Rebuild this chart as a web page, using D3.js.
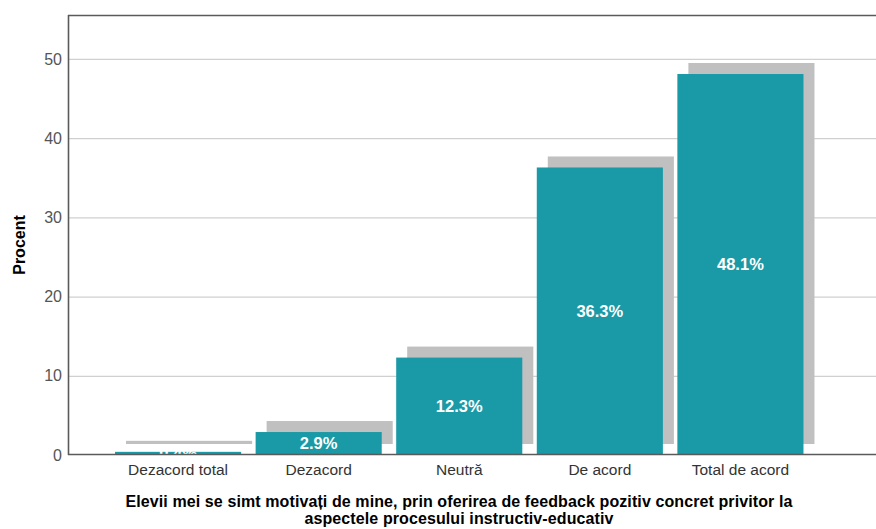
<!DOCTYPE html>
<html>
<head>
<meta charset="utf-8">
<script src="https://cdn.jsdelivr.net/npm/d3@7/dist/d3.min.js"></script>
<style>
  html, body { margin: 0; padding: 0; background: #fff; }
  svg { display: block; font-family: Arial, "Liberation Sans", sans-serif; }
</style>
</head>
<body>
<svg id="chart" width="876" height="529"></svg>
<script>
// Response categories and percentages
const categories = ["Dezacord total", "Dezacord", "Neutră", "De acord", "Total de acord"];
const percents = [0.4, 2.9, 12.3, 36.3, 48.1];
const yTicks = [0, 10, 20, 30, 40, 50];
const yTitle = "Procent";
const xTitleLines = [
  "Elevii mei se simt motivați de mine, prin oferirea de feedback pozitiv concret privitor la",
  "aspectele procesului instructiv-educativ"
];

const W = 876, H = 529;
const plot = { left: 68, right: 876, top: 15, bottom: 455 };
const shadowOffset = 11;

const svg = d3.select("#chart");

const x = d3.scaleBand()
  .domain(categories)
  .range([108, 810.5])
  .paddingInner(0.103)
  .paddingOuter(0.05);

const y = d3.scaleLinear()
  .domain([0, 55.55])
  .range([plot.bottom, plot.top]);

// clip region for the plot area
svg.append("defs").append("clipPath").attr("id", "plotClip")
  .append("rect")
  .attr("x", plot.left).attr("y", plot.top)
  .attr("width", plot.right - plot.left).attr("height", plot.bottom - plot.top - 1);

// horizontal gridlines
svg.append("g")
  .selectAll("line")
  .data(yTicks.filter(d => d > 0))
  .join("line")
  .attr("x1", plot.left).attr("x2", plot.right)
  .attr("y1", d => y(d) + 0.5).attr("y2", d => y(d) + 0.5)
  .attr("stroke", "#d0d0d0").attr("stroke-width", 1.3);

const bars = svg.append("g").attr("clip-path", "url(#plotClip)");

// drop shadows behind bars
bars.selectAll("rect.shadow")
  .data(percents)
  .join("rect")
  .attr("class", "shadow")
  .attr("x", (d, i) => x(categories[i]) + shadowOffset)
  .attr("y", d => y(d) - shadowOffset)
  .attr("width", x.bandwidth())
  .attr("height", d => y(0) - y(d))
  .attr("fill", "#c0c0c0");

// bars
bars.selectAll("rect.bar")
  .data(percents)
  .join("rect")
  .attr("class", "bar")
  .attr("x", (d, i) => x(categories[i]))
  .attr("y", d => y(d))
  .attr("width", x.bandwidth())
  .attr("height", d => y(0) - y(d))
  .attr("fill", "#1a9aa7");

// value labels centred in each bar (clipped at the baseline)
bars.selectAll("text.val")
  .data(percents)
  .join("text")
  .attr("class", "val")
  .attr("x", (d, i) => x(categories[i]) + x.bandwidth() / 2)
  .attr("y", d => (y(d) + y(0)) / 2)
  .attr("dy", "0.36em")
  .attr("text-anchor", "middle")
  .attr("fill", "#fff")
  .attr("font-size", 16.5)
  .attr("font-weight", "bold")
  .text(d => d.toFixed(1) + "%");

// y axis tick labels
const yAxis = d3.axisLeft(y).tickValues(yTicks).tickSize(0).tickPadding(6);
const gy = svg.append("g").attr("transform", `translate(${plot.left},0)`).call(yAxis);
gy.select(".domain").remove();
gy.selectAll("text").attr("font-size", 16).attr("fill", "#555").attr("font-family", "Arial, 'Liberation Sans', sans-serif");

// x axis category labels
const xAxis = d3.axisBottom(x).tickSize(0).tickPadding(9);
const gx = svg.append("g").attr("transform", `translate(0,${plot.bottom})`).call(xAxis);
gx.select(".domain").remove();
gx.selectAll("text").attr("font-size", 15.5).attr("fill", "#333").attr("font-family", "Arial, 'Liberation Sans', sans-serif");

// frame: left axis, top line and baseline
const frame = svg.append("g").attr("stroke", "#5a5a5a").attr("stroke-width", 1.6).attr("fill", "none");
frame.append("line").attr("x1", plot.left + 0.5).attr("x2", plot.left + 0.5).attr("y1", plot.top).attr("y2", plot.bottom);
frame.append("line").attr("x1", plot.left).attr("x2", plot.right).attr("y1", plot.top + 0.5).attr("y2", plot.top + 0.5);
frame.append("line").attr("x1", plot.left).attr("x2", plot.right).attr("y1", plot.bottom - 0.5).attr("y2", plot.bottom - 0.5);

// axis titles
svg.append("text")
  .attr("transform", `translate(25,245) rotate(-90)`)
  .attr("text-anchor", "middle")
  .attr("font-size", 16).attr("font-weight", "bold").attr("fill", "#000")
  .text(yTitle);

svg.append("text")
  .attr("x", 459).attr("y", 507)
  .attr("text-anchor", "middle")
  .attr("font-size", 16).attr("font-weight", "bold").attr("fill", "#000")
  .attr("letter-spacing", 0.1)
  .selectAll("tspan")
  .data(xTitleLines)
  .join("tspan")
  .attr("x", 459)
  .attr("dy", (d, i) => i === 0 ? 0 : 16.5)
  .text(d => d);
</script>
</body>
</html>
